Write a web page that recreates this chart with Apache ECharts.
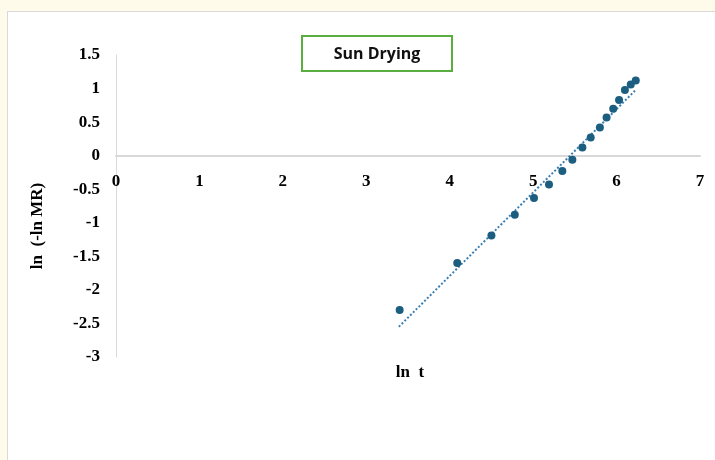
<!DOCTYPE html>
<html>
<head>
<meta charset="utf-8">
<script src="https://cdn.jsdelivr.net/npm/echarts@6/dist/echarts.min.js"></script>
<style>
    html, body { margin: 0; padding: 0; background: #fefbea; }
    #panel { position: absolute; left: 7px; top: 11px; width: 720px; height: 460px;
             background: #ffffff; border: 1px solid #d9d9d9; }
    #chart { position: absolute; left: 0; top: 0; width: 715px; height: 460px; }
</style>
</head>
<body>
<div id="panel"></div>
<div id="chart"></div>
<script>
    // ln t (x) and ln(-ln MR) (y)
    var lnT = [3.40, 4.09, 4.50, 4.78, 5.01, 5.19, 5.35, 5.47, 5.59, 5.69, 5.80, 5.88, 5.96, 6.03, 6.10, 6.17, 6.23];
    var lnLnMR = [-2.30, -1.60, -1.19, -0.88, -0.63, -0.43, -0.23, -0.06, 0.12, 0.27, 0.42, 0.57, 0.70, 0.83, 0.98, 1.06, 1.12];

    // linear trend line end points
    var trendX = [3.39, 6.23];
    var trendY = [-2.55, 0.98];

    var xTicks = [0, 1, 2, 3, 4, 5, 6, 7];
    var yTicks = [-3, -2.5, -2, -1.5, -1, -0.5, 0, 0.5, 1, 1.5];

    var chart = echarts.init(document.getElementById('chart'));

    var points = lnT.map(function (x, i) { return [x, lnLnMR[i]]; });
    var trend = trendX.map(function (x, i) { return [x, trendY[i]]; });

    var labelFont = {
        fontFamily: '"Liberation Serif", "Times New Roman", serif',
        fontWeight: 'bold',
        fontSize: 17,
        color: '#000'
    };

    var gridTop = 55, gridHeight = 302;
    var yMin = yTicks[0], yMax = yTicks[yTicks.length - 1];
    // move the x axis (line and labels) up to y = 0
    var zeroOffset = -gridHeight * (0 - yMin) / (yMax - yMin);

    var option = {
        backgroundColor: 'transparent',
        animation: false,
        grid: { left: 116, top: gridTop, width: 584, height: gridHeight },
        xAxis: {
            type: 'value',
            min: xTicks[0],
            max: xTicks[xTicks.length - 1],
            interval: 1,
            offset: zeroOffset,
            axisLine: { onZero: false, lineStyle: { color: '#d9d9d9', width: 2 } },
            axisTick: { show: false },
            splitLine: { show: false },
            axisLabel: Object.assign({ margin: 17 }, labelFont)
        },
        yAxis: {
            type: 'value',
            min: yMin,
            max: yMax,
            interval: 0.5,
            axisLine: { show: true, lineStyle: { color: '#d9d9d9', width: 1 } },
            axisTick: { show: false },
            splitLine: { show: false },
            axisLabel: Object.assign({ margin: 16 }, labelFont)
        },
        graphic: [
            {
                type: 'rect',
                shape: { x: 302, y: 36, width: 150, height: 35 },
                style: { fill: '#fff', stroke: '#5aad3f', lineWidth: 2 }
            },
            {
                type: 'text',
                x: 377, y: 54,
                style: {
                    text: 'Sun Drying',
                    align: 'center', verticalAlign: 'middle',
                    font: 'bold 16px "Open Sans", sans-serif',
                    fill: '#111'
                }
            },
            {
                type: 'text',
                x: 410, y: 373,
                style: {
                    text: 'ln  t',
                    align: 'center', verticalAlign: 'middle',
                    font: 'bold 17px "Liberation Serif", serif',
                    fill: '#000'
                }
            },
            {
                type: 'text',
                x: 38, y: 226,
                rotation: Math.PI / 2,
                style: {
                    text: 'ln  (-ln MR)',
                    align: 'center', verticalAlign: 'middle',
                    font: 'bold 17px "Liberation Serif", serif',
                    fill: '#000'
                }
            }
        ],
        series: [
            {
                type: 'line',
                data: trend,
                symbol: 'none',
                lineStyle: { color: '#3b7fb3', width: 2, type: 'dotted' },
                z: 2
            },
            {
                type: 'scatter',
                data: points,
                symbolSize: 8,
                itemStyle: { color: '#1b5e80', opacity: 1 },
                z: 3
            }
        ]
    };

    chart.setOption(option);
</script>
</body>
</html>
